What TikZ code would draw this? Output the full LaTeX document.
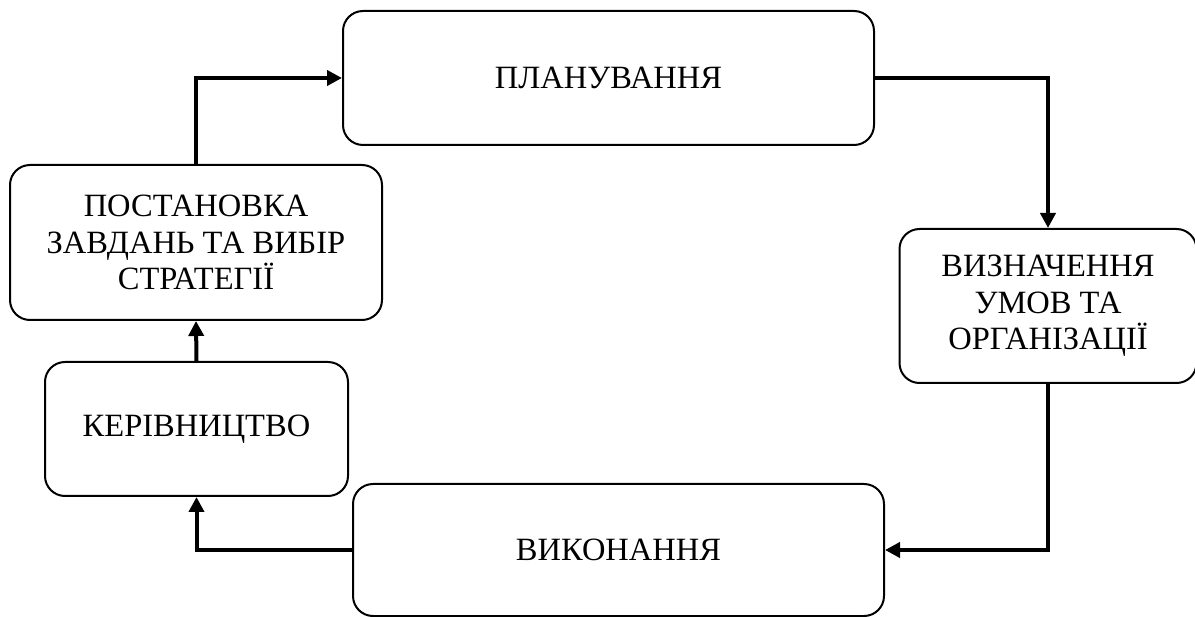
\documentclass[tikz,border=0pt]{standalone}
\usepackage{fontspec}
\setmainfont{Liberation Serif}
\usetikzlibrary{arrows.meta}
\begin{document}
\begin{tikzpicture}[x=1pt,y=-1pt,
  box/.style={draw=black, line width=2pt, rounded corners=20pt, fill=white,
    align=center, inner sep=0pt, font=\fontsize{32.5pt}{36.5pt}\selectfont},
  conn/.style={line width=4pt, -{Triangle[length=15pt,width=15pt]}}]
\useasboundingbox (0,0) rectangle (1195,617);
\node[box, minimum width=531pt, minimum height=134pt] (plan) at (608.5,78) {ПЛАНУВАННЯ};
\node[box, minimum width=372pt, minimum height=155pt] (post) at (196,242.5) {ПОСТАНОВКА\\ЗАВДАНЬ ТА ВИБІР\\СТРАТЕГІЇ};
\node[box, minimum width=297pt, minimum height=154pt] (viz) at (1048,306) {ВИЗНАЧЕННЯ\\УМОВ ТА\\ОРГАНІЗАЦІЇ};
\node[box, minimum width=303pt, minimum height=134pt] (ker) at (196.5,429) {КЕРІВНИЦТВО};
\node[box, minimum width=531pt, minimum height=132pt] (vyk) at (618.5,550) {ВИКОНАННЯ};
\draw[conn] (post.north) |- (plan.west);
\draw[conn] (plan.east) -| (viz.north);
\draw[conn] (viz.south) |- (vyk.east);
\draw[conn] (vyk.west) -| (ker.south);
\draw[conn] (ker.north) -- (post.south);
\end{tikzpicture}
\end{document}
